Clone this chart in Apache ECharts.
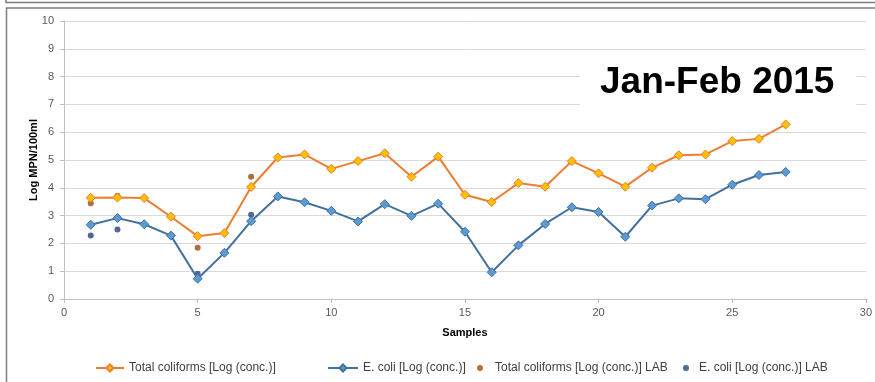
<!DOCTYPE html>
<html lang="en">
<head>
    <meta charset="UTF-8">
    <title>Jan-Feb 2015</title>
    <style>
        html, body { margin: 0; padding: 0; background: #fff; }
        #chart { width: 875px; height: 382px; }
    </style>
</head>
<body>
<div id="chart"></div>
<script type="text/javascript" src="https://cdn.jsdelivr.net/npm/echarts@6/dist/echarts.min.js"></script>
<script type="text/javascript">
// sample numbers 1..27
var samples = [1,2,3,4,5,6,7,8,9,10,11,12,13,14,15,16,17,18,19,20,21,22,23,24,25,26,27];
var totalColi = [3.64,3.65,3.63,2.96,2.26,2.37,4.03,5.09,5.2,4.68,4.96,5.24,4.4,5.12,3.75,3.49,4.17,4.04,4.96,4.52,4.04,4.72,5.17,5.2,5.68,5.76,6.28];
var eColi = [2.67,2.91,2.69,2.28,0.73,1.66,2.8,3.69,3.48,3.17,2.79,3.41,2.99,3.43,2.42,0.96,1.93,2.7,3.3,3.13,2.24,3.36,3.62,3.59,4.11,4.46,4.57];
// lab measurements, only some samples
var labSamples = [1,2,5,7];
var totalColiLab = [3.44,3.71,1.84,4.4];
var eColiLab = [2.28,2.5,0.91,3.03];

var xTicks = [0,5,10,15,20,25,30];
var yTicks = [0,1,2,3,4,5,6,7,8,9,10];

function pairs(xs, ys) {
    return xs.map(function (x, i) { return [x, ys[i]]; });
}

var font = "'Liberation Sans Narrow', 'Liberation Sans', sans-serif";
var names = ['Total coliforms [Log (conc.)]', 'E. coli [Log (conc.)]',
             'Total coliforms [Log (conc.)] LAB', 'E. coli [Log (conc.)] LAB'];

var myChart = echarts.init(document.getElementById('chart'));
var legendBase = {
    top: 357,
    itemGap: 0,
    textStyle: { fontFamily: font, fontSize: 12, color: '#404040' }
};
option = {
    animation: false,
    backgroundColor: '#fff',
    title: {
        text: 'Jan-Feb 2015',
        left: 580,
        top: 50,
        padding: [14, 22, 14, 20],
        backgroundColor: '#fff',
        textStyle: { fontFamily: "'Liberation Sans', Arial, sans-serif", fontSize: 37, fontWeight: 'bold', color: '#000' }
    },
    graphic: [
        // frame lines like the pasted slide
        { type: 'polyline', shape: { points: [[6, 0], [6, 2.5], [875, 2.5]] }, style: { stroke: '#7f7f7f', lineWidth: 1.5, fill: null } },
        { type: 'polyline', shape: { points: [[6.5, 382], [6.5, 8], [875, 8]] }, style: { stroke: '#7f7f7f', lineWidth: 1.5, fill: null } }
    ],
    legend: [
        Object.assign({ left: 90, data: [names[0]], itemWidth: 28, itemHeight: 9 }, legendBase),
        Object.assign({ left: 322, data: [names[1]], itemWidth: 30, itemHeight: 9 }, legendBase),
        Object.assign({ left: 472, data: [names[2]], itemWidth: 20, itemHeight: 6, icon: 'circle' }, legendBase),
        Object.assign({ left: 678, data: [names[3]], itemWidth: 16, itemHeight: 6, icon: 'circle' }, legendBase)
    ],
    grid: { left: 64, right: 9, top: 21, bottom: 83 },
    xAxis: {
        type: 'value',
        min: xTicks[0],
        max: xTicks[xTicks.length - 1],
        interval: 5,
        name: 'Samples',
        nameLocation: 'middle',
        nameGap: 28,
        nameMoveOverlap: false,
        nameTextStyle: { fontFamily: font, fontSize: 11, fontWeight: 'bold', color: '#000' },
        axisLine: { lineStyle: { color: '#bfbfbf' } },
        axisTick: { show: true, length: 4, lineStyle: { color: '#bfbfbf' } },
        axisLabel: { fontFamily: font, fontSize: 11, color: '#595959', margin: 8 },
        splitLine: { show: false }
    },
    yAxis: {
        type: 'value',
        min: yTicks[0],
        max: yTicks[yTicks.length - 1],
        interval: 1,
        name: 'Log MPN/100ml',
        nameLocation: 'middle',
        nameGap: 25,
        nameMoveOverlap: false,
        nameTextStyle: { fontFamily: font, fontSize: 11, fontWeight: 'bold', color: '#000' },
        axisLine: { show: true, lineStyle: { color: '#bfbfbf' } },
        axisTick: { show: true, length: 4, lineStyle: { color: '#bfbfbf' } },
        axisLabel: { fontFamily: font, fontSize: 11, color: '#595959', margin: 10 },
        splitLine: { lineStyle: { color: '#d9d9d9', width: 1 } }
    },
    series: [
        {
            name: names[0],
            type: 'line',
            data: pairs(samples, totalColi),
            symbol: 'diamond',
            symbolSize: 9,
            lineStyle: { color: '#ED7D31', width: 2 },
            itemStyle: { color: '#FFC000', borderColor: '#ED7D31', borderWidth: 1 }
        },
        {
            name: names[1],
            type: 'line',
            data: pairs(samples, eColi),
            symbol: 'diamond',
            symbolSize: 9,
            lineStyle: { color: '#41719C', width: 2 },
            itemStyle: { color: '#5B9BD5', borderColor: '#41719C', borderWidth: 1 }
        },
        {
            name: names[2],
            type: 'scatter',
            data: pairs(labSamples, totalColiLab),
            symbol: 'circle',
            symbolSize: 6,
            itemStyle: { color: '#9E480E' }
        },
        {
            name: names[3],
            type: 'scatter',
            data: pairs(labSamples, eColiLab),
            symbol: 'circle',
            symbolSize: 6,
            itemStyle: { color: '#264478' }
        }
    ]
};
myChart.setOption(option);
</script>
</body>
</html>
